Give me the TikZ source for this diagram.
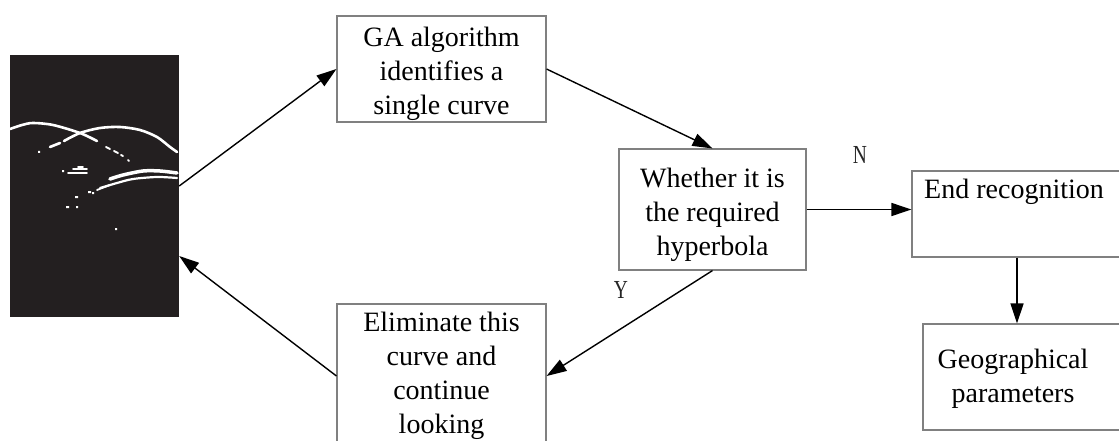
\documentclass[tikz,border=0pt]{standalone}
\usepackage{fontspec}
\setmainfont{Liberation Serif}
\usetikzlibrary{arrows.meta,calc}
\begin{document}
\begin{tikzpicture}[x=1pt,y=-1pt,
  boxnode/.style={draw=black!50,line width=1.1pt,rectangle,inner sep=0pt},
  txt/.style={inner sep=0pt,font=\fontsize{28}{34}\selectfont,align=center},
  yn/.style={inner sep=0pt,font=\fontsize{26}{30}\selectfont,xscale=0.75,text=black!85},
  arr/.style={line width=1.4pt,-{Triangle[length=20pt,width=13pt]}},
  curve/.style={white,line width=2.6pt,line cap=round}]
\useasboundingbox (0,0) rectangle (1119,441);
% image
\node[fill={rgb,255:red,35;green,31;blue,32},draw=none,minimum width=169pt,minimum height=262pt,inner sep=0pt] (img) at (94.5,186) {};
\draw[curve] plot[smooth] coordinates {(10,129) (22,125) (33,123) (53,125) (80,133) (97,141)};
\draw[curve,line width=2pt] (106,147)--(110,149) (114,151)--(118,153) (121,155)--(123,156) (128,160)--(129,161);
\draw[curve] plot[smooth] coordinates {(50,147) (60,143)};
\draw[curve] plot[smooth] coordinates {(64,141) (80,133) (100,128) (120,127) (140,130) (157,137) (170,147) (177,152)};
\draw[curve,line width=3.5pt] plot[smooth] coordinates {(110,179) (123,175) (143,171) (160,171) (177,173)};
\draw[curve,line width=2.2pt] plot[smooth] coordinates {(100,188) (117,183) (133,179) (157,177) (177,178)};
\draw[curve,line width=1.8pt] (97,190)--(110,185);
\draw[curve,line width=1.8pt] (68,173)--(87,173) (73,169)--(87,169) (78,167)--(83,167);
\fill[white] (38,151) rectangle ++(2,2) (62,170) rectangle ++(2,2) (88,191) rectangle ++(3,2)
  (75,196) rectangle ++(3,2) (66,206) rectangle ++(3,2) (76,206) rectangle ++(2,2)
  (115,228) rectangle ++(2,2) (92,192) rectangle ++(2,2);
% boxes
\node[boxnode,minimum width=209pt,minimum height=106pt] (ga) at (441.5,69) {};
\node[txt] (gatxt) at (441.5,74) {GA algorithm\\identifies a\\single curve};
\node[boxnode,minimum width=187pt,minimum height=121pt] (wh) at (712.5,209.5) {};
\node[txt] (whtxt) at (712.5,215) {Whether it is\\the required\\hyperbola};
\node[boxnode,minimum width=209pt,minimum height=144pt] (el) at (441.5,376) {};
\node[txt] (eltxt) at (441.5,376) {Eliminate this\\curve and\\continue\\looking};
\node[boxnode,minimum width=216pt,minimum height=86pt] (end) at (1020,214) {};
\node[txt,anchor=base west] (endtxt) at (924,198) {End recognition};
\node[boxnode,minimum width=206pt,minimum height=106pt] (geo) at (1026,377) {};
\node[txt] (geotxt) at (1013,379) {Geographical\\parameters};
% labels
\node[yn] (ylab) at (621,290) {Y};
\node[yn] (nlab) at (860,155) {N};
% arrows
\draw[arr] (img.east) -- (ga.west);
\draw[arr] (ga.east) -- (wh.north);
\draw[arr] (wh.south) -- (el.east);
\draw[arr] (el.west) -- ([yshift=-70pt]img.east);
\draw[arr] (wh.east) -- (wh.east -| end.west);
\draw[arr] ([xshift=-3pt]end.south) -- ([xshift=-3pt]end.south |- geo.north);
\end{tikzpicture}
\end{document}
